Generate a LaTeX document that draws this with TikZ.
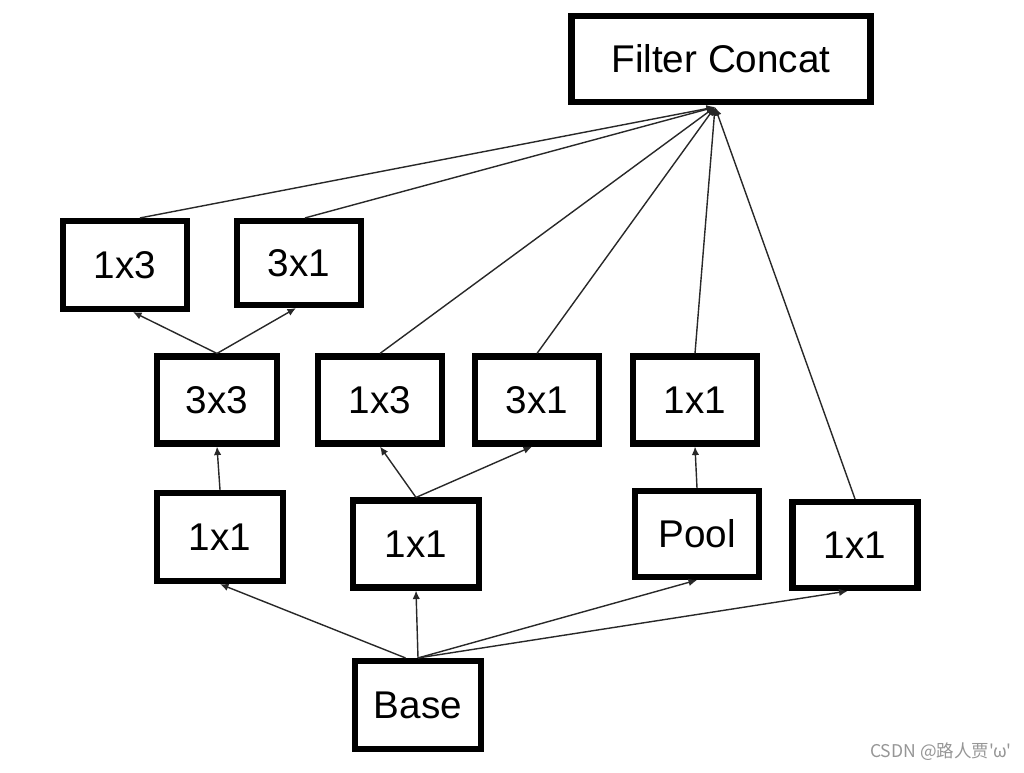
\documentclass[tikz,border=0pt]{standalone}
\usepackage{fontspec}
\setmainfont{Liberation Sans}
\newfontfamily\cjk{Noto Sans CJK SC}
\usetikzlibrary{arrows.meta,calc,positioning}

\definecolor{inkline}{RGB}{40,40,40}
\definecolor{markgray}{RGB}{150,150,150}

\begin{document}
\begin{tikzpicture}[
    x=0.02cm, y=-0.02cm,
    font=\fontsize{22}{26}\selectfont,
    >={Latex[length=1.7mm,width=1.5mm]},
    box/.style={
        draw=black,
        fill=white,
        line width=3.5pt,
        minimum width=2.48cm,
        minimum height=1.76cm,
        align=center,
        inner sep=2pt
    },
    flow/.style={->, line width=0.8pt, draw=inkline}
]

\useasboundingbox (0,0) rectangle (1024,772);

% output
\node[box, minimum width=5.98cm, minimum height=1.72cm] (concat) at (721,59) {Filter Concat};
\coordinate (concatin) at ($(concat.south)+(-6,2)$);

% top row
\node[box] (top13) at (125,265) {1x3};
\node[box, minimum height=1.68cm] (top31) at (299,263) {3x1};

% middle row
\node[box, minimum width=2.4cm, minimum height=1.74cm] (mid33) at (217,400) {3x3};
\node[box, minimum height=1.74cm] (mid13) at (380,400) {1x3};
\node[box, minimum height=1.74cm] (mid31) at (537,400) {3x1};
\node[box, minimum height=1.74cm] (mid11) at (695,400) {1x1};

% lower row
\node[box, minimum width=2.52cm] (low11a) at (220,537) {1x1};
\node[box, minimum width=2.52cm, minimum height=1.74cm] (low11b) at (416,544) {1x1};
\node[box, minimum height=1.72cm] (pool) at (697,534) {Pool};
\node[box, minimum width=2.5cm, minimum height=1.72cm] (low11c) at (855,545) {1x1};

% input
\node[box, minimum width=2.52cm] (base) at (418,705) {Base};

% base to first layer
\draw[flow] ([xshift=-0.25cm]base.north) -- (low11a.south);
\draw[flow] (base.north) -- (low11b.south);
\draw[flow] (base.north) -- (pool.south);
\draw[flow] (base.north) -- ([xshift=-0.15cm]low11c.south);

% branch towers
\draw[flow] (low11a.north) -- (mid33.south);
\draw[flow] (mid33.north) -- ([xshift=0.16cm]top13.south);
\draw[flow] (mid33.north) -- ([xshift=-0.06cm]top31.south);
\draw[flow] (low11b.north) -- (mid13.south);
\draw[flow] (low11b.north) -- ([xshift=-0.1cm]mid31.south);
\draw[flow] (pool.north) -- (mid11.south);

% everything into the concat
\draw[flow] ([xshift=0.3cm]top13.north) -- (concatin);
\draw[flow] ([xshift=0.12cm]top31.north) -- (concatin);
\draw[flow] (mid13.north) -- (concatin);
\draw[flow] (mid31.north) -- (concatin);
\draw[flow] (mid11.north) -- (concatin);
\draw[flow] (low11c.north) -- (concatin);

% watermark
\node[anchor=east, text=markgray, font=\cjk\fontsize{10}{12}\selectfont] (mark) at (1018,752) {CSDN @路人贾'ω'};

\end{tikzpicture}
\end{document}
